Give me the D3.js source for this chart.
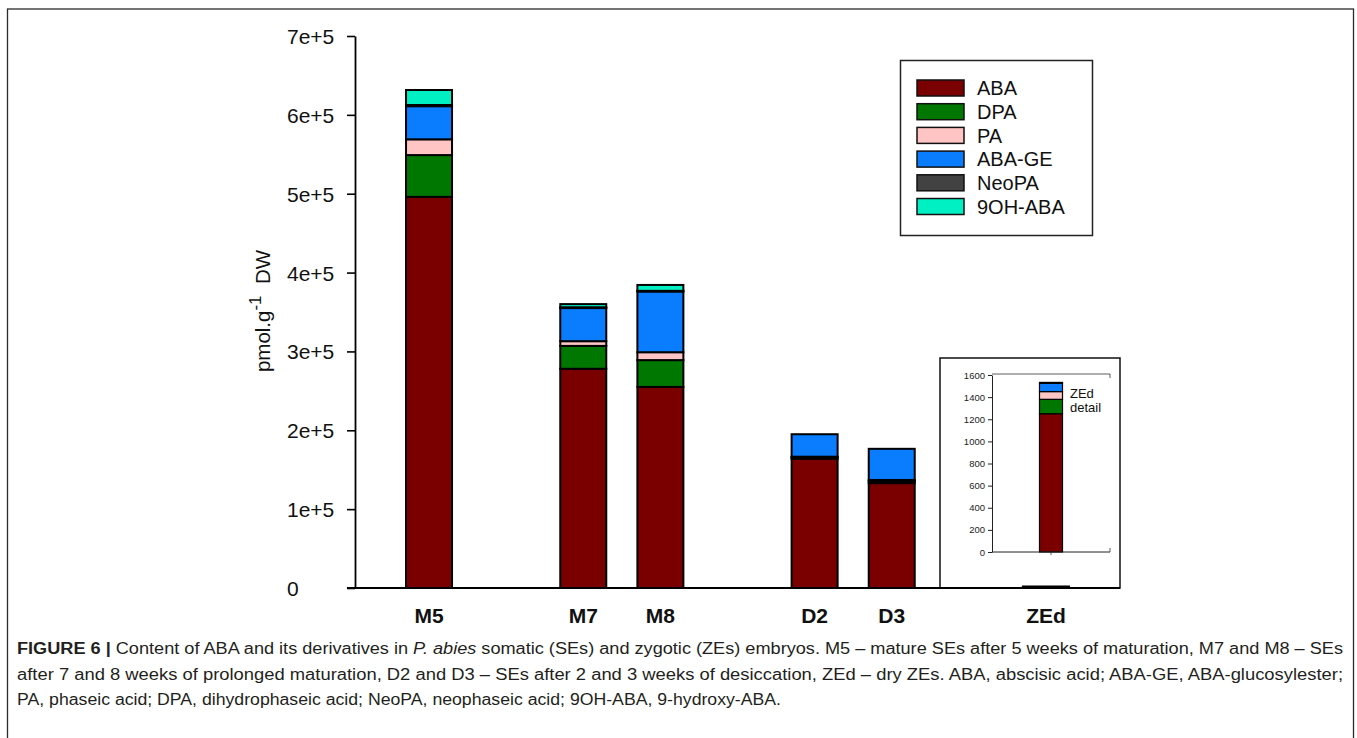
<!DOCTYPE html>
<html>
<head>
<meta charset="utf-8">
<script src="https://cdn.jsdelivr.net/npm/d3@7"></script>
<style>
  html, body { margin: 0; padding: 0; background: #fff; }
  svg { display: block; font-family: "Liberation Sans", Arial, sans-serif; }
</style>
</head>
<body>
<svg id="fig" width="1357" height="738"></svg>
<script>
// Sample groups and their positions on the category axis (spacer slots leave gaps)
const categories = ["M5", "M7", "M8", "D2", "D3", "ZEd"];
const slots = ["M5", "s1", "M7", "M8", "s2", "D2", "D3", "s3", "ZEd"];

// Content in pmol.g-1 DW, one array per compound, ordered as categories
const ABA     = [496000, 278000, 255000, 164000, 133000, 1250];
const DPA     = [53000, 29000, 34000, 1500, 2500, 130];
const PA      = [20000, 6000, 10000, 1000, 1500, 70];
const ABA_GE  = [42000, 42000, 77000, 28500, 39500, 75];
const NeoPA   = [1500, 1000, 800, 0, 0, 8];
const OH9_ABA = [19000, 4000, 7500, 0, 0, 0];

const seriesNames  = ["ABA", "DPA", "PA", "ABA-GE", "NeoPA", "9OH-ABA"];
const seriesValues = [ABA, DPA, PA, ABA_GE, NeoPA, OH9_ABA];
const seriesColors = ["#7a0000", "#007800", "#ffc4c4", "#0a7dff", "#424242", "#00f0c4"];

// Main axis ticks
const yTicks = [0, 100000, 200000, 300000, 400000, 500000, 600000, 700000];
const yTickLabels = ["0", "1e+5", "2e+5", "3e+5", "4e+5", "5e+5", "6e+5", "7e+5"];

// Detail panel for the dry zygotic embryos
const insetCategory = "ZEd";
const insetTicks = [0, 200, 400, 600, 800, 1000, 1200, 1400, 1600];

// Caption
const captionLines = [
  [{t: "FIGURE 6 | ", b: true}, {t: "Content of ABA and its derivatives in "}, {t: "P. abies", i: true},
   {t: " somatic (SEs) and zygotic (ZEs) embryos. M5 \u2013 mature SEs after 5 weeks of maturation, M7 and M8 \u2013 SEs"}],
  [{t: "after 7 and 8 weeks of prolonged maturation, D2 and D3 \u2013 SEs after 2 and 3 weeks of desiccation, ZEd \u2013 dry ZEs. ABA, abscisic acid; ABA-GE, ABA-glucosylester;"}],
  [{t: "PA, phaseic acid; DPA, dihydrophaseic acid; NeoPA, neophaseic acid; 9OH-ABA, 9-hydroxy-ABA."}]
];

const svg = d3.select("#fig");

// Outer frame
svg.append("rect")
  .attr("x", 7.5).attr("y", 9).attr("width", 1346).attr("height", 760)
  .attr("fill", "none").attr("stroke", "#2b2b2b").attr("stroke-width", 1.3);

// Plot geometry
const plot = {left: 355, right: 1120, top: 36, bottom: 588};

const x = d3.scalePoint().domain(slots).range([plot.left, plot.right]).padding(0.96);
const y = d3.scaleLinear().domain([0, 700000]).range([plot.bottom, plot.top]);
const barW = 46;

// Stacked data
const rows = categories.map((c, i) => {
  const r = {cat: c};
  seriesNames.forEach((s, k) => { r[s] = seriesValues[k][i]; });
  return r;
});
const stacked = d3.stack().keys(seriesNames)(rows);

// Detail panel frame (drawn first so the main ZEd bar stays visible on the axis)
const inset = svg.append("g");
inset.append("rect")
  .attr("x", 940).attr("y", 358).attr("width", 180).attr("height", 230)
  .attr("fill", "none").attr("stroke", "#111").attr("stroke-width", 1.5);

const gBars = svg.append("g");
stacked.forEach((layer, k) => {
  gBars.selectAll(null)
    .data(layer.filter(d => d[1] - d[0] > 0))
    .join("rect")
    .attr("x", d => x(d.data.cat) - barW / 2)
    .attr("width", barW)
    .attr("y", d => y(d[1]))
    .attr("height", d => Math.max(0, y(d[0]) - y(d[1])))
    .attr("fill", seriesColors[k])
    .attr("stroke", "#000")
    .attr("stroke-width", 2);
});

// Y axis
const yAxis = d3.axisLeft(y).tickValues(yTicks)
  .tickFormat((d, i) => yTickLabels[i]).tickSize(8).tickSizeOuter(0);
const gy = svg.append("g").attr("transform", `translate(${plot.left},0)`).call(yAxis);
gy.select(".domain").attr("stroke", "#000").attr("stroke-width", 1.8);
gy.selectAll(".tick line").attr("stroke", "#000").attr("stroke-width", 1.6);
gy.selectAll(".tick text")
  .attr("font-size", 21).attr("fill", "#111")
  .attr("text-anchor", "start").attr("x", -68).attr("dy", "0.36em")
  .attr("font-family", "Liberation Sans, Arial, sans-serif");

// X axis
svg.append("line")
  .attr("x1", plot.left - 8).attr("x2", plot.right)
  .attr("y1", plot.bottom).attr("y2", plot.bottom)
  .attr("stroke", "#000").attr("stroke-width", 1.8);
svg.append("g").selectAll("text")
  .data(categories).join("text")
  .attr("x", d => x(d)).attr("y", plot.bottom + 35)
  .attr("text-anchor", "middle")
  .attr("font-size", 21).attr("font-weight", "bold").attr("fill", "#111")
  .text(d => d);

// Y axis title
const yt = svg.append("text")
  .attr("transform", "translate(270,311) rotate(-90)")
  .attr("text-anchor", "middle").attr("font-size", 20.5).attr("fill", "#111");
yt.append("tspan").text("pmol.g");
yt.append("tspan").attr("baseline-shift", "super").attr("font-size", 17).text("-1");
yt.append("tspan").text("\u00a0 DW");

// Legend
const legend = svg.append("g");
legend.append("rect")
  .attr("x", 900.5).attr("y", 60.5).attr("width", 192).attr("height", 175)
  .attr("fill", "#fff").attr("stroke", "#222").attr("stroke-width", 1.5);
seriesNames.forEach((s, k) => {
  const cy = 88 + k * 23.7;
  legend.append("rect")
    .attr("x", 917).attr("y", cy - 8).attr("width", 47).attr("height", 16)
    .attr("fill", seriesColors[k]).attr("stroke", "#111").attr("stroke-width", 1.5);
  legend.append("text")
    .attr("x", 977).attr("y", cy).attr("dy", "0.36em")
    .attr("font-size", 20).attr("fill", "#111").text(s);
});

// Detail panel contents
const ix = d3.scalePoint().domain([insetCategory]).range([992, 1110]).padding(0.5);
const iy = d3.scaleLinear().domain([0, 1600]).range([552, 375]);
const iBarW = 23;
const zi = categories.indexOf(insetCategory);
const zRow = stacked.map((layer, k) => ({k, d: layer[zi]})).filter(o => o.d[1] - o.d[0] > 0);

inset.append("g").selectAll("rect")
  .data(zRow).join("rect")
  .attr("x", ix(insetCategory) - iBarW / 2).attr("width", iBarW)
  .attr("y", o => iy(o.d[1]))
  .attr("height", o => Math.max(0, iy(o.d[0]) - iy(o.d[1])))
  .attr("fill", o => seriesColors[o.k])
  .attr("stroke", "#000").attr("stroke-width", 1.2);

const iyAxis = d3.axisLeft(iy).tickValues(insetTicks).tickFormat(d3.format("d"))
  .tickSize(4).tickSizeOuter(0);
const giy = inset.append("g").attr("transform", "translate(992,0)").call(iyAxis);
giy.select(".domain").attr("stroke", "#222").attr("stroke-width", 1);
giy.selectAll(".tick line").attr("stroke", "#222");
giy.selectAll(".tick text")
  .attr("font-size", 9.5).attr("fill", "#222").attr("font-family", "Liberation Sans, Arial, sans-serif");

// Panel frame lines
inset.append("line").attr("x1", 992).attr("x2", 1110).attr("y1", 552).attr("y2", 552)
  .attr("stroke", "#222").attr("stroke-width", 1);
inset.append("line").attr("x1", 992).attr("x2", 1110).attr("y1", 374).attr("y2", 374)
  .attr("stroke", "#333").attr("stroke-width", 0.8);
inset.append("line").attr("x1", 1110).attr("x2", 1110).attr("y1", 374).attr("y2", 378)
  .attr("stroke", "#333").attr("stroke-width", 0.8);
inset.append("line").attr("x1", 1110).attr("x2", 1110).attr("y1", 548).attr("y2", 552)
  .attr("stroke", "#333").attr("stroke-width", 0.8);
inset.append("line").attr("x1", ix(insetCategory)).attr("x2", ix(insetCategory))
  .attr("y1", 552).attr("y2", 555).attr("stroke", "#333").attr("stroke-width", 0.8);

inset.append("text").attr("x", 1070).attr("y", 398).attr("font-size", 13).attr("fill", "#111").text("ZEd");
inset.append("text").attr("x", 1070).attr("y", 412).attr("font-size", 13).attr("fill", "#111").text("detail");

// Caption
const capY = [654, 680, 705];
const capLen = [1326, 1326, 764];
captionLines.forEach((parts, li) => {
  const t = svg.append("text")
    .attr("x", 17).attr("y", capY[li])
    .attr("font-size", 16).attr("fill", "#231f20")
    .attr("textLength", capLen[li]).attr("lengthAdjust", "spacingAndGlyphs");
  parts.forEach(p => {
    const ts = t.append("tspan").text(p.t);
    if (p.b) ts.attr("font-weight", "bold");
    if (p.i) ts.attr("font-style", "italic");
  });
});
</script>
</body>
</html>
